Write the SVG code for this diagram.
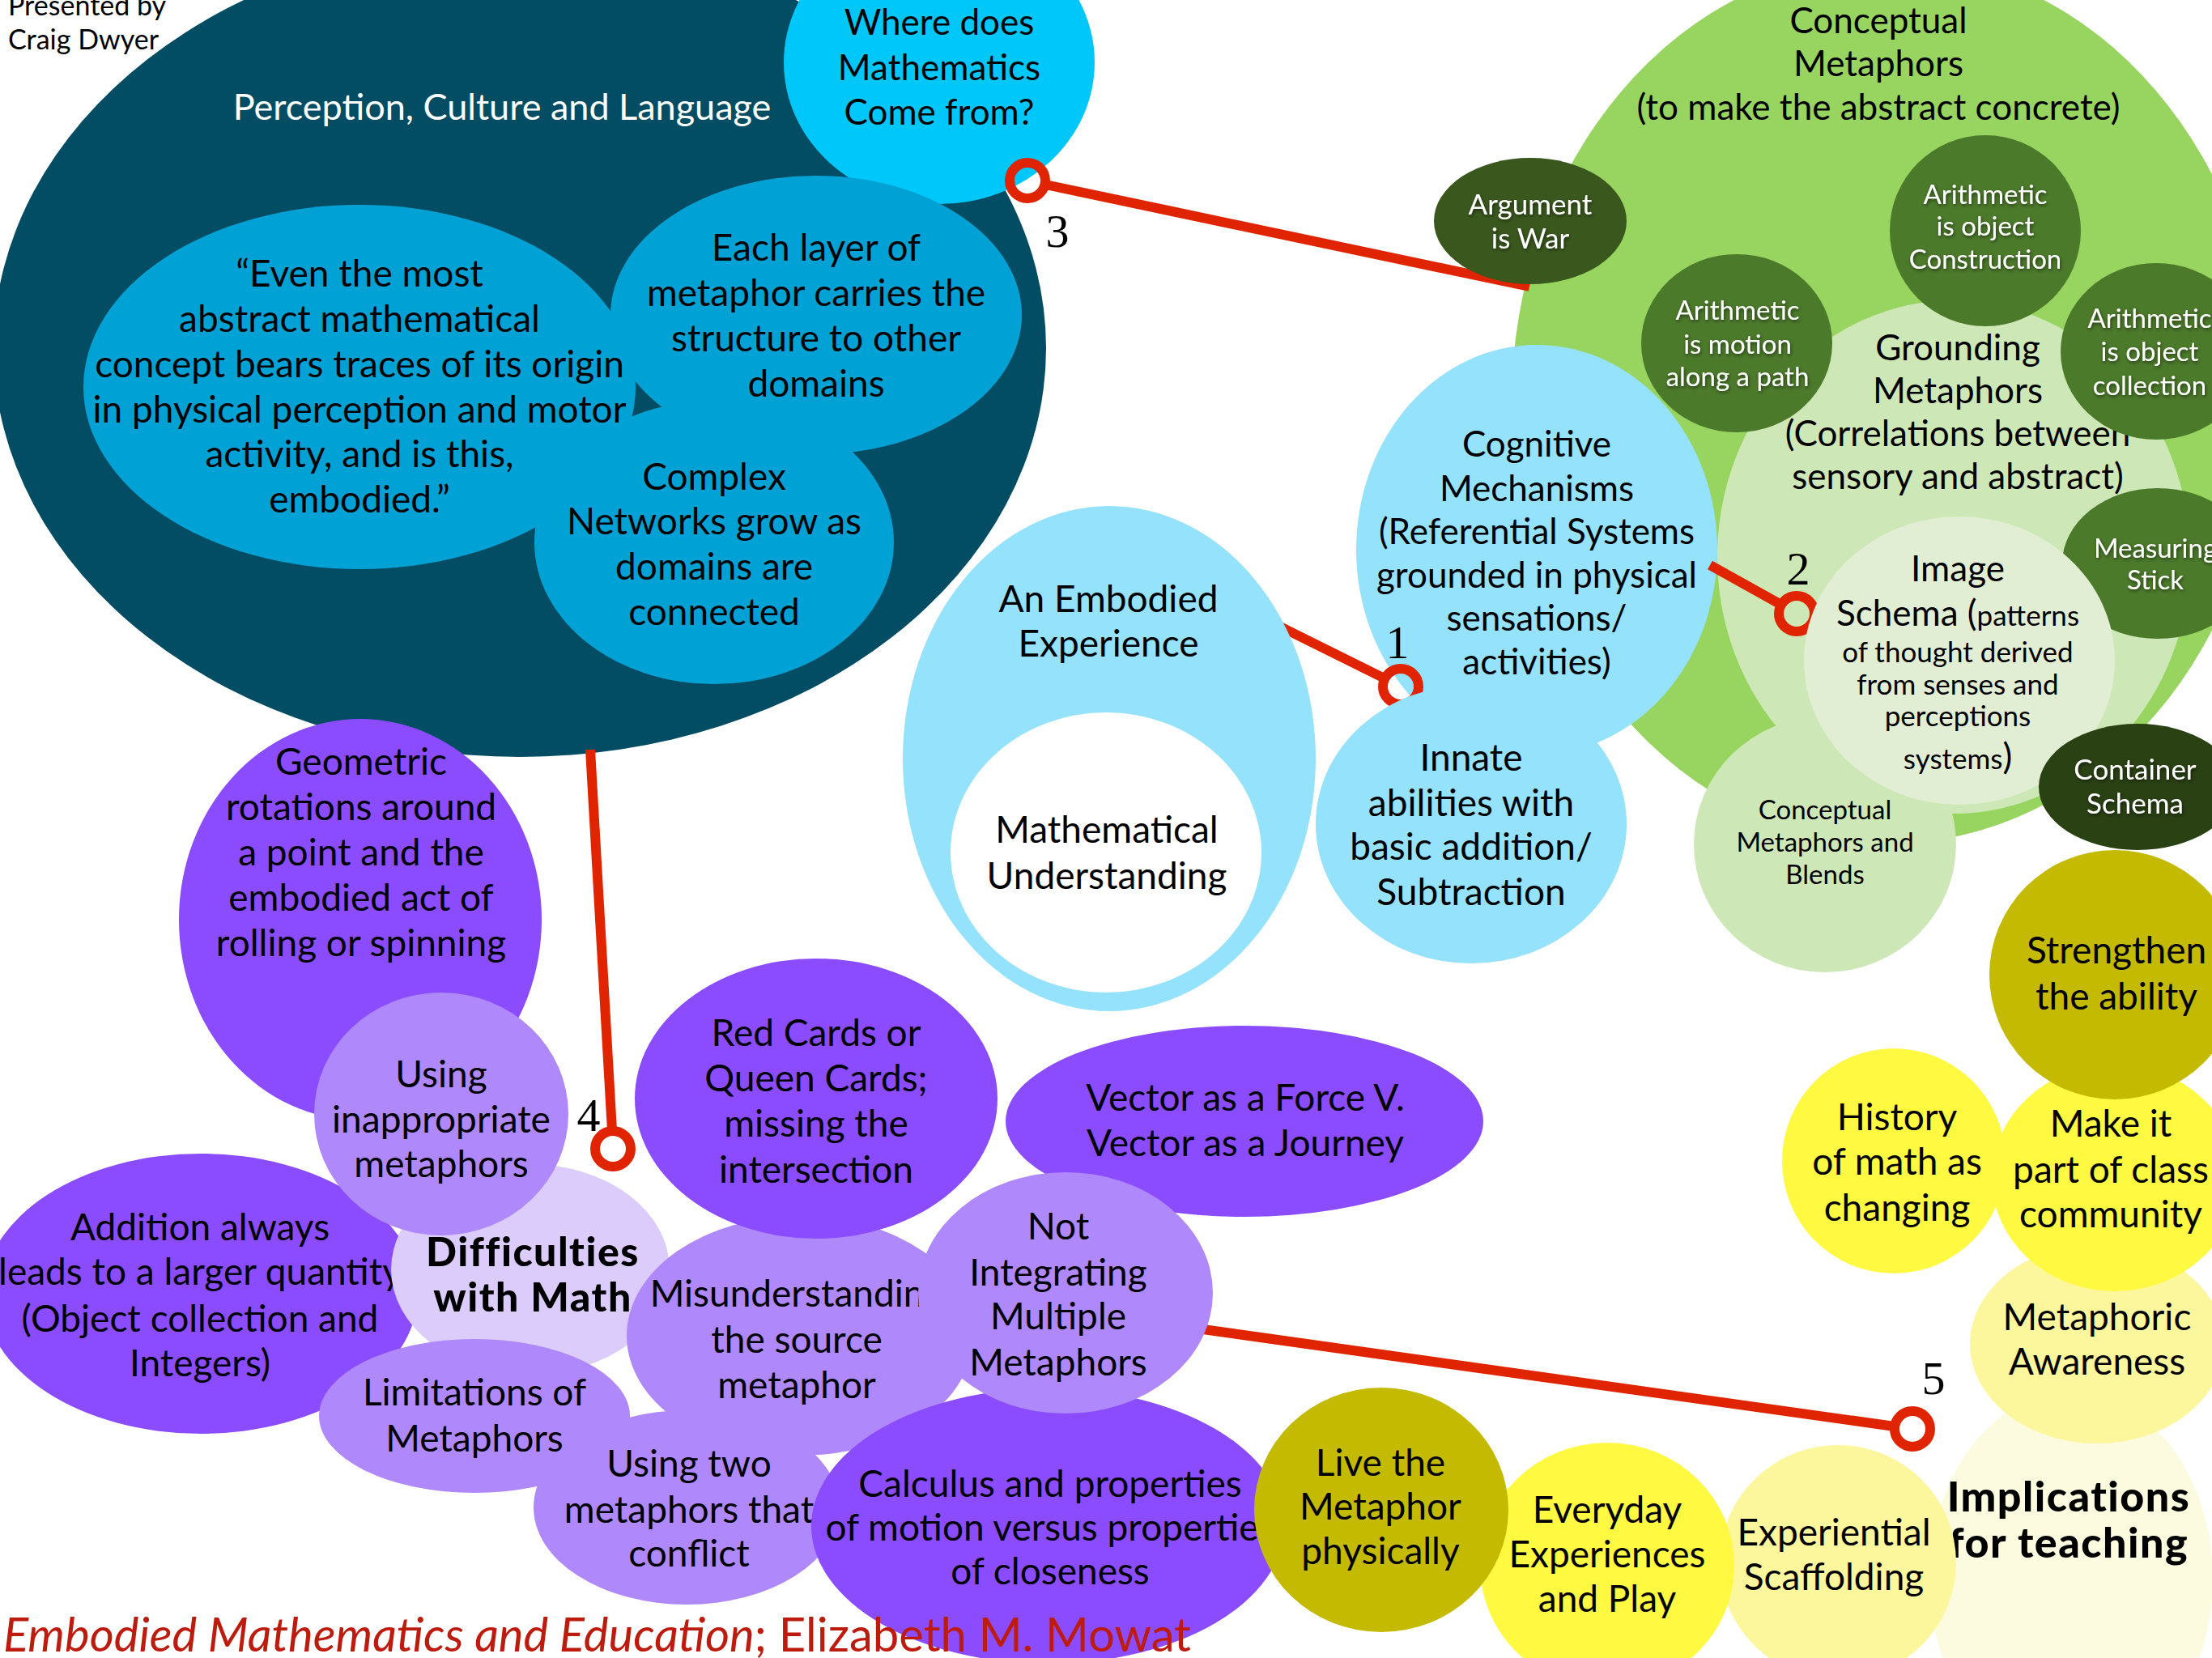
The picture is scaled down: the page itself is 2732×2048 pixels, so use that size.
<svg xmlns="http://www.w3.org/2000/svg" width="2732" height="2048" viewBox="0 0 2732 2048">
  <defs>
    <style>
      .t { font-family: Lato, "Open Sans", "DejaVu Sans", sans-serif; text-anchor: middle; fill: #000; }
      .big { font-size: 46px; }
      .mid { font-size: 44px; }
      .sm { font-size: 34px; }
      .xs { font-size: 33px; }
      .w { fill: #fff; }
      .bold { font-weight: 900; letter-spacing: 1.5px; }
      .num { font-family: "Liberation Serif", "Times New Roman", serif; font-size: 58px; text-anchor: middle; fill: #000; }
      .conn { stroke: #E02400; stroke-width: 12; fill: none; }
      .ring { stroke: #E02400; stroke-width: 12; fill: none; }
      .teal { fill: #024D63; }
      .cyan { fill: #00C7F9; }
      .blue { fill: #00A2D5; }
      .lblue { fill: #95E2FC; }
      .green { fill: #98D460; }
      .lgreen { fill: #CDE8B6; }
      .pgreen { fill: #E1EED4; }
      .dgreen { fill: #4C7A2B; }
      .dgreen2 { fill: #3A581E; }
      .dgreen3 { fill: #2A4114; }
      .purple { fill: #8A4CFE; }
      .lav { fill: #AF88FB; }
      .plav { fill: #DBCCFC; }
      .olive { fill: #C4BA02; }
      .yellow { fill: #FFF942; }
      .lyellow { fill: #FCF79C; }
      .pyellow { fill: #FDFBDF; }
    </style>
    <filter id="glow" x="-10%" y="-20%" width="120%" height="140%">
      <feDropShadow dx="1" dy="2" stdDeviation="2" flood-color="#000" flood-opacity="0.55"/>
    </filter>
  </defs>

  <rect x="0" y="0" width="2732" height="2048" fill="#fff"/>

  <!-- credit line, top left -->
  <g id="credit">
    <text x="10" y="19" style="font-family: Lato, 'Open Sans', sans-serif; font-size: 34px; fill: #000;">Presented by</text>
    <text x="10" y="61" style="font-family: Lato, 'Open Sans', sans-serif; font-size: 34px; fill: #000;">Craig Dwyer</text>
  </g>

  <!-- upper left cluster -->
  <g id="perception">
    <ellipse class="teal" cx="642" cy="430" rx="650" ry="505"/>
    <text class="t w" style="font-size:45px" x="620" y="148">Perception, Culture and Language</text>
  </g>

  <g id="where-does">
    <ellipse class="cyan" cx="1160" cy="77" rx="192" ry="175"/>
    <text class="t mid" x="1160" y="43">Where does</text>
    <text class="t mid" x="1160" y="99">Mathematics</text>
    <text class="t mid" x="1160" y="154">Come from?</text>
  </g>

  <g id="quote">
    <ellipse class="blue" cx="444" cy="478" rx="341" ry="225"/>
    <text class="t big" x="444" y="354">“Even the most</text>
    <text class="t big" x="444" y="410">abstract mathematical</text>
    <text class="t big" x="444" y="466">concept bears traces of its origin</text>
    <text class="t big" x="444" y="522">in physical perception and motor</text>
    <text class="t big" x="444" y="577">activity, and is this,</text>
    <text class="t big" x="444" y="633">embodied.”</text>
  </g>

  <g id="each-layer">
    <ellipse class="blue" cx="1008" cy="389" rx="254" ry="172"/>
    <text class="t big" x="1008" y="322">Each layer of</text>
    <text class="t big" x="1008" y="378">metaphor carries the</text>
    <text class="t big" x="1008" y="434">structure to other</text>
    <text class="t big" x="1008" y="490">domains</text>
  </g>

  <g id="complex-networks">
    <ellipse class="blue" cx="882" cy="670" rx="222" ry="175"/>
    <text class="t big" x="882" y="605">Complex</text>
    <text class="t big" x="882" y="660">Networks grow as</text>
    <text class="t big" x="882" y="716">domains are</text>
    <text class="t big" x="882" y="772">connected</text>
  </g>

  <!-- upper right cluster -->
  <g id="conceptual-metaphors">
    <ellipse class="green" cx="2333" cy="497" rx="466" ry="545"/>
    <text class="t mid" x="2320" y="41">Conceptual</text>
    <text class="t mid" x="2320" y="94">Metaphors</text>
    <text class="t mid" x="2320" y="148">(to make the abstract concrete)</text>
  </g>

  <g id="grounding-metaphors">
    <ellipse class="lgreen" cx="2413" cy="688" rx="292" ry="317"/>
    <text class="t mid" x="2418" y="445">Grounding</text>
    <text class="t mid" x="2418" y="498">Metaphors</text>
    <text class="t mid" x="2418" y="551">(Correlations between</text>
    <text class="t mid" x="2418" y="604">sensory and abstract)</text>
  </g>

  <g id="cognitive-mechanisms">
    <ellipse class="lblue" cx="1898" cy="679" rx="223" ry="253"/>
    <text class="t mid" x="1898" y="564">Cognitive</text>
    <text class="t mid" x="1898" y="619">Mechanisms</text>
    <text class="t mid" x="1898" y="672">(Referential Systems</text>
    <text class="t mid" x="1898" y="726">grounded in physical</text>
    <text class="t mid" x="1898" y="779">sensations/</text>
    <text class="t mid" x="1898" y="833">activities)</text>
  </g>

  <!-- numbered connectors -->
  <g id="connectors">
    <line class="conn" x1="1575" y1="771" x2="1710" y2="838"/>
    <circle class="ring" cx="1730" cy="848" r="22"/>
    <text class="num" x="1726" y="813">1</text>

    <line class="conn" x1="2112" y1="698" x2="2200" y2="747"/>
    <circle class="ring" cx="2219" cy="758" r="22"/>
    <text class="num" x="2221" y="722">2</text>

    <line class="conn" x1="1291" y1="228" x2="1889" y2="354"/>
    <circle class="ring" cx="1269" cy="223" r="22"/>
    <text class="num" x="1306" y="305">3</text>

    <line class="conn" x1="729" y1="926" x2="756" y2="1397"/>
    <circle class="ring" cx="757" cy="1419" r="22"/>
    <text class="num" x="727" y="1397">4</text>

    <line class="conn" x1="1450" y1="1637" x2="2340" y2="1762"/>
    <circle class="ring" cx="2362" cy="1765" r="22"/>
    <text class="num" x="2388" y="1722">5</text>
  </g>

  <g id="embodied-experience">
    <ellipse class="lblue" cx="1370" cy="937" rx="255" ry="312"/>
    <text class="t big" x="1369" y="756">An Embodied</text>
    <text class="t big" x="1369" y="811">Experience</text>
  </g>

  <g id="mathematical-understanding">
    <ellipse fill="#fff" cx="1366" cy="1053" rx="192" ry="173"/>
    <text class="t big" x="1367" y="1041">Mathematical</text>
    <text class="t big" x="1367" y="1098">Understanding</text>
  </g>

  <g id="innate-abilities">
    <ellipse class="lblue" cx="1817" cy="1018" rx="192" ry="172"/>
    <text class="t big" x="1817" y="952">Innate</text>
    <text class="t big" x="1817" y="1008">abilities with</text>
    <text class="t big" x="1817" y="1062">basic addition/</text>
    <text class="t big" x="1817" y="1118">Subtraction</text>
  </g>

  <g id="argument-is-war">
    <ellipse class="dgreen2" cx="1890" cy="273" rx="119" ry="78"/>
    <text class="t w" style="font-size:35px" filter="url(#glow)" x="1890" y="265">Argument</text>
    <text class="t w" style="font-size:35px" filter="url(#glow)" x="1890" y="307">is War</text>
  </g>

  <g id="arithmetic-construction">
    <ellipse class="dgreen" cx="2452" cy="285" rx="118" ry="118"/>
    <text class="t w xs" filter="url(#glow)" x="2452" y="252">Arithmetic</text>
    <text class="t w xs" filter="url(#glow)" x="2452" y="291">is object</text>
    <text class="t w xs" filter="url(#glow)" x="2452" y="332">Construction</text>
  </g>

  <g id="arithmetic-motion">
    <ellipse class="dgreen" cx="2145" cy="424" rx="118" ry="110"/>
    <text class="t w xs" filter="url(#glow)" x="2146" y="395">Arithmetic</text>
    <text class="t w xs" filter="url(#glow)" x="2146" y="437">is motion</text>
    <text class="t w xs" filter="url(#glow)" x="2146" y="477">along a path</text>
  </g>

  <g id="arithmetic-collection">
    <ellipse class="dgreen" cx="2663" cy="434" rx="118" ry="109"/>
    <text class="t w xs" filter="url(#glow)" x="2655" y="405">Arithmetic</text>
    <text class="t w xs" filter="url(#glow)" x="2655" y="446">is object</text>
    <text class="t w xs" filter="url(#glow)" x="2655" y="488">collection</text>
  </g>

  <g id="measuring-stick">
    <ellipse class="dgreen" cx="2665" cy="696" rx="118" ry="93"/>
    <text class="t w xs" filter="url(#glow)" x="2662" y="689">Measuring</text>
    <text class="t w xs" filter="url(#glow)" x="2662" y="728">Stick</text>
  </g>

  <g id="metaphors-and-blends">
    <ellipse class="lgreen" cx="2254" cy="1043" rx="162" ry="158"/>
    <text class="t xs" x="2254" y="1012">Conceptual</text>
    <text class="t xs" x="2254" y="1052">Metaphors and</text>
    <text class="t xs" x="2254" y="1092">Blends</text>
  </g>

  <g id="image-schema">
    <ellipse class="pgreen" cx="2420" cy="816" rx="192" ry="178"/>
    <text class="t mid" x="2418" y="718">Image</text>
    <text class="t mid" x="2418" y="773">Schema (<tspan style="font-size:35px">patterns</tspan></text>
    <text class="t" style="font-size:35px" x="2418" y="818">of thought derived</text>
    <text class="t" style="font-size:35px" x="2418" y="858">from senses and</text>
    <text class="t" style="font-size:35px" x="2418" y="897">perceptions</text>
    <text class="t" style="font-size:35px" x="2418" y="950">systems<tspan style="font-size:44px">)</tspan></text>
  </g>

  <g id="container-schema">
    <ellipse class="dgreen3" cx="2640" cy="972" rx="122" ry="78"/>
    <text class="t w" style="font-size:35px" filter="url(#glow)" x="2637" y="963">Container</text>
    <text class="t w" style="font-size:35px" filter="url(#glow)" x="2637" y="1005">Schema</text>
  </g>

  <!-- lower left cluster: difficulties -->
  <g id="geometric-rotations">
    <ellipse class="purple" cx="445" cy="1136" rx="224" ry="248"/>
    <text class="t big" x="446" y="957">Geometric</text>
    <text class="t big" x="446" y="1013">rotations around</text>
    <text class="t big" x="446" y="1069">a point and the</text>
    <text class="t big" x="446" y="1125">embodied act of</text>
    <text class="t big" x="446" y="1181">rolling or spinning</text>
  </g>

  <g id="addition-always">
    <ellipse class="purple" cx="248" cy="1598" rx="268" ry="173"/>
    <text class="t big" x="247" y="1532">Addition always</text>
    <text class="t big" x="247" y="1587">leads to a larger quantity</text>
    <text class="t big" x="247" y="1645">(Object collection and</text>
    <text class="t big" x="247" y="1700">Integers)</text>
  </g>

  <g id="difficulties-with-math">
    <ellipse class="plav" cx="655" cy="1568" rx="172" ry="130"/>
    <text class="t bold" style="font-size:50px" x="658" y="1564">Difficulties</text>
    <text class="t bold" style="font-size:50px" x="658" y="1620">with Math</text>
  </g>

  <g id="inappropriate-metaphors">
    <ellipse class="lav" cx="545" cy="1376" rx="157" ry="150"/>
    <text class="t big" x="545" y="1343">Using</text>
    <text class="t big" x="545" y="1399">inappropriate</text>
    <text class="t big" x="545" y="1454">metaphors</text>
  </g>

  <g id="limitations">
    <ellipse class="lav" cx="586" cy="1749" rx="192" ry="95"/>
    <text class="t big" x="586" y="1736">Limitations of</text>
    <text class="t big" x="586" y="1793">Metaphors</text>
  </g>

  <g id="two-metaphors">
    <ellipse class="lav" cx="848" cy="1862" rx="189" ry="120"/>
    <text class="t big" x="851" y="1824">Using two</text>
    <text class="t big" x="851" y="1881">metaphors that</text>
    <text class="t big" x="851" y="1935">conflict</text>
  </g>

  <g id="misunderstanding">
    <ellipse class="lav" cx="988" cy="1650" rx="214" ry="148"/>
    <text class="t big" x="984" y="1614">Misunderstanding</text>
    <text class="t big" x="984" y="1671">the source</text>
    <text class="t big" x="984" y="1727">metaphor</text>
  </g>

  <g id="red-cards">
    <ellipse class="purple" cx="1008" cy="1357" rx="224" ry="173"/>
    <text class="t big" x="1008" y="1292">Red Cards or</text>
    <text class="t big" x="1008" y="1348">Queen Cards;</text>
    <text class="t big" x="1008" y="1404">missing the</text>
    <text class="t big" x="1008" y="1461">intersection</text>
  </g>

  <g id="vector">
    <ellipse class="purple" cx="1537" cy="1385" rx="295" ry="118"/>
    <text class="t big" x="1538" y="1372">Vector as a Force V.</text>
    <text class="t big" x="1538" y="1428">Vector as a Journey</text>
  </g>

  <g id="calculus">
    <ellipse class="purple" cx="1294" cy="1885" rx="292" ry="170"/>
    <text class="t big" x="1297" y="1849">Calculus and properties</text>
    <text class="t big" x="1297" y="1903">of motion versus properties</text>
    <text class="t big" x="1297" y="1957">of closeness</text>
  </g>

  <g id="not-integrating">
    <ellipse class="lav" cx="1316" cy="1597" rx="182" ry="149"/>
    <text class="t big" x="1307" y="1531">Not</text>
    <text class="t big" x="1307" y="1588">Integrating</text>
    <text class="t big" x="1307" y="1642">Multiple</text>
    <text class="t big" x="1307" y="1699">Metaphors</text>
  </g>

  <!-- lower right cluster: teaching -->
  <g id="implications">
    <ellipse class="pyellow" cx="2558" cy="1950" rx="175" ry="230"/>
    <text class="t bold" style="font-size:52px" x="2555" y="1867">Implications</text>
    <text class="t bold" style="font-size:52px" x="2555" y="1924">for teaching</text>
  </g>

  <g id="metaphoric-awareness">
    <ellipse class="lyellow" cx="2590" cy="1660" rx="157" ry="123"/>
    <text class="t big" x="2590" y="1643">Metaphoric</text>
    <text class="t big" x="2590" y="1698">Awareness</text>
  </g>

  <g id="history-of-math">
    <ellipse class="yellow" cx="2339" cy="1434" rx="138" ry="139"/>
    <text class="t big" x="2343" y="1396">History</text>
    <text class="t big" x="2343" y="1451">of math as</text>
    <text class="t big" x="2343" y="1508">changing</text>
  </g>

  <g id="class-community">
    <ellipse class="yellow" cx="2612" cy="1455" rx="152" ry="140"/>
    <text class="t big" x="2607" y="1404">Make it</text>
    <text class="t big" x="2607" y="1461">part of class</text>
    <text class="t big" x="2607" y="1516">community</text>
  </g>

  <g id="strengthen">
    <ellipse class="olive" cx="2612" cy="1204" rx="155" ry="154"/>
    <text class="t big" x="2614" y="1190">Strengthen</text>
    <text class="t big" x="2614" y="1247">the ability</text>
  </g>

  <g id="scaffolding">
    <ellipse class="lyellow" cx="2270" cy="1930" rx="146" ry="145"/>
    <text class="t big" x="2265" y="1909">Experiential</text>
    <text class="t big" x="2265" y="1964">Scaffolding</text>
  </g>

  <g id="everyday">
    <ellipse class="yellow" cx="1985" cy="1934" rx="157" ry="152"/>
    <text class="t big" x="1985" y="1881">Everyday</text>
    <text class="t big" x="1985" y="1936">Experiences</text>
    <text class="t big" x="1985" y="1991">and Play</text>
  </g>

  <g id="live-the-metaphor">
    <ellipse class="olive" cx="1706" cy="1865" rx="157" ry="151"/>
    <text class="t big" x="1705" y="1823">Live the</text>
    <text class="t big" x="1705" y="1877">Metaphor</text>
    <text class="t big" x="1705" y="1932">physically</text>
  </g>

  <!-- source line -->
  <g id="title">
    <text x="4" y="2040" style="font-family: Lato, 'Open Sans', sans-serif; font-size: 58px; fill: #BD1B0D;"><tspan style="font-style: italic;">Embodied Mathematics and Education</tspan>; Elizabeth M. Mowat</text>
  </g>
</svg>
